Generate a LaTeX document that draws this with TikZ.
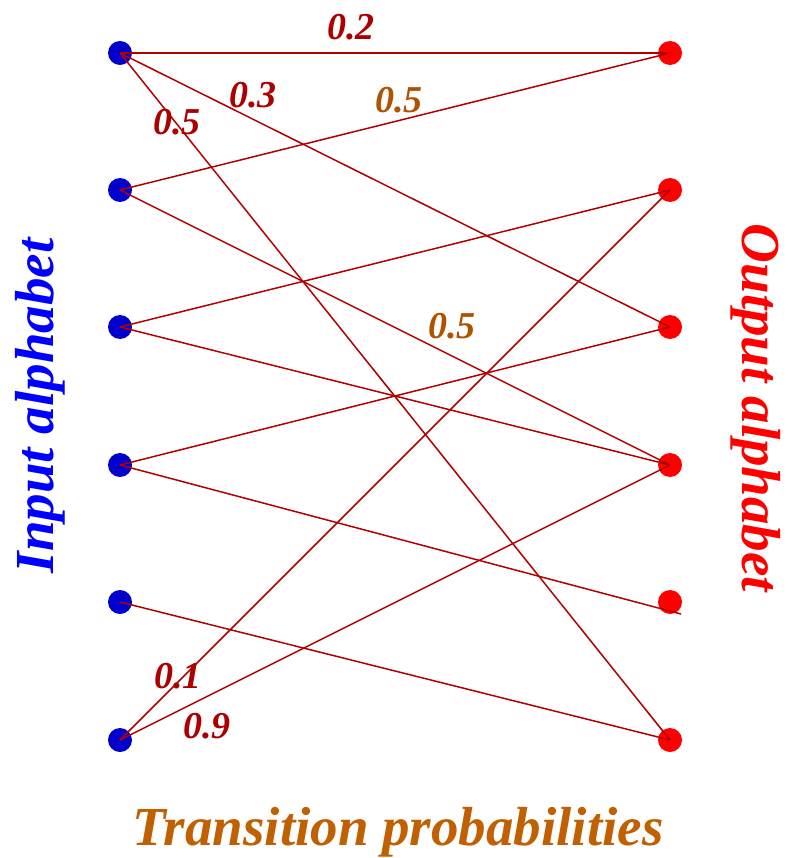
\documentclass[tikz,border=0pt]{standalone}
\usepackage{fontspec}
\setmainfont{Liberation Serif}
\definecolor{inblue}{RGB}{0,0,205}
\definecolor{outred}{RGB}{255,0,0}
\definecolor{edgered}{RGB}{178,0,0}
\definecolor{labred}{RGB}{172,0,0}
\definecolor{laborange}{RGB}{176,82,0}
\definecolor{titleorange}{RGB}{192,96,0}
\begin{document}
\begin{tikzpicture}[x=1pt,y=-1pt,
  indot/.style={circle,fill=inblue,draw=none,minimum size=24pt,inner sep=0pt},
  outdot/.style={circle,fill=outred,draw=none,minimum size=24pt,inner sep=0pt},
  edge/.style={draw=edgered,line width=1.5pt},
  prob/.style={inner sep=0pt,font=\fontsize{38}{38}\selectfont\bfseries\itshape,text=labred},
  probo/.style={prob,text=laborange},
  big/.style={inner sep=0pt,font=\fontsize{55}{55}\selectfont\bfseries\itshape}]
\useasboundingbox (0,0) rectangle (787,858);
\foreach \i/\y in {1/53,2/190,3/327,4/465,5/602,6/740}{
  \node[indot] (L\i) at (120,\y) {};
  \node[outdot] (R\i) at (670,\y) {};
}
\coordinate (R5e) at (681,614);
\draw[edge] (L1.center) -- (R1.center);
\draw[edge] (L1.center) -- (R3.center);
\draw[edge] (L1.center) -- (R6.center);
\draw[edge] (L2.center) -- (R1.center);
\draw[edge] (L2.center) -- (R4.center);
\draw[edge] (L3.center) -- (R2.center);
\draw[edge] (L3.center) -- (R4.center);
\draw[edge] (L4.center) -- (R3.center);
\draw[edge] (L4.center) -- (R5e);
\draw[edge] (L5.center) -- (R6.center);
\draw[edge] (L6.center) -- (R2.center);
\draw[edge] (L6.center) -- (R4.center);
\node[prob] (p02) at (351,27) {0.2};
\node[prob] (p03) at (253,95) {0.3};
\node[prob] (p05a) at (177,122) {0.5};
\node[probo] (p05b) at (399,100) {0.5};
\node[probo] (p05c) at (452,326) {0.5};
\node[prob] (p01) at (178,676) {0.1};
\node[prob] (p09) at (207,726) {0.9};
\node[big,text=blue,rotate=90] (inlab) at (40,406) {Input alphabet};
\node[big,text=outred,rotate=-90] (outlab) at (756,408) {Output alphabet};
\node[big,text=titleorange,anchor=base] (title) at (398,845) {Transition probabilities};
\end{tikzpicture}
\end{document}
